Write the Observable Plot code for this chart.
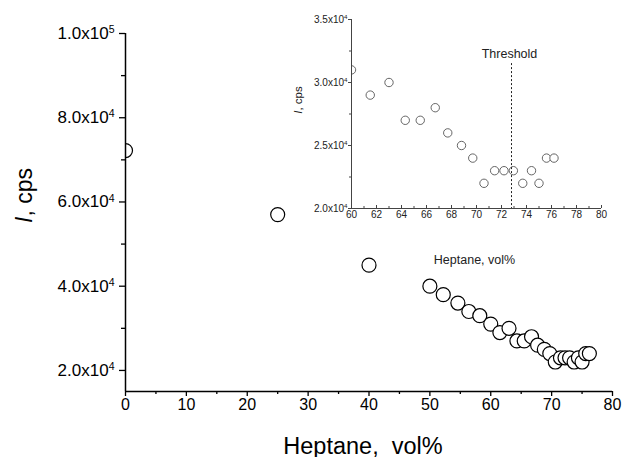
<!DOCTYPE html>
<html><head><meta charset="utf-8">
<script src="https://cdn.jsdelivr.net/npm/d3@7"></script>
<script src="https://cdn.jsdelivr.net/npm/@observablehq/plot@0.6"></script>
<style>
body{margin:0;background:#fff;}
#wrap{position:relative;width:622px;height:457px;}
#wrap > div{position:absolute;}
#main{left:0;top:0;width:622px;}
#inset{left:270px;top:0;width:350px;}
</style></head><body>
<div id="wrap"><div id="main"></div><div id="inset"></div></div>
<script>
// Data
const heptane = [0, 25, 40, 50, 52.2, 54.6, 56.4, 58.2, 60, 61.5, 63, 64.3, 65.5, 66.7, 67.7, 68.8, 69.7, 70.6, 71.45, 72.2, 72.95, 73.7, 74.4, 75.0, 75.6, 76.2];
const intensity = [72200, 57000, 45000, 40000, 38000, 36000, 34000, 33000, 31000, 29000, 30000, 27000, 27000, 28000, 26000, 25000, 24000, 22000, 23000, 23000, 23000, 22000, 23000, 22000, 24000, 24000];
const mainXTicks = [0, 10, 20, 30, 40, 50, 60, 70, 80];
const mainXMinor = [5, 15, 25, 35, 45, 55, 65, 75];
const mainYTicks = [20000, 40000, 60000, 80000, 100000];
const mainYMinor = [30000, 50000, 70000, 90000];
const insetXTicks = [60, 62, 64, 66, 68, 70, 72, 74, 76, 78, 80];
const insetXMinor = [61, 63, 65, 67, 69, 71, 73, 75, 77, 79];
const insetYTicks = [20000, 25000, 30000, 35000];
const insetYMinor = [22500, 27500, 32500];
const thresholdX = [72.8];
const thresholdLabel = ["Threshold"];
const xLabel = "Heptane,\u00a0 vol%";
const insetXLabel = "Heptane, vol%";
const yLabel = "I, cps";

const SUP = "⁰¹²³⁴⁵⁶⁷⁸⁹";
function sci(d) {
  const e = Math.floor(Math.log10(d) + 1e-9);
  const m = d / Math.pow(10, e);
  return m.toFixed(1) + "x10" + String(e).split("").map(c => SUP[+c]).join("");
}

const data = heptane.map((x, i) => ({x, y: intensity[i]}));
const insetData = data.filter(d => d.x >= 60);
const FONT = "Liberation Sans, Arial, sans-serif";

// main chart geometry
const MW = 622, MH = 457, ML = 125, MR = 10, MT = 33, MB = 66;
const mainXDom = [0, 80], mainYDom = [15000, 100000];
const xs = Plot.scale({x: {domain: mainXDom, range: [ML, MW - MR]}});
const ys = Plot.scale({y: {domain: mainYDom, range: [MH - MB, MT]}});
const x0 = mainXDom[0], y0 = mainYDom[0];

const main = Plot.plot({
  width: MW, height: MH,
  marginLeft: ML, marginRight: MR, marginTop: MT, marginBottom: MB,
  style: {fontFamily: FONT, background: "transparent", color: "#000"},
  x: {domain: mainXDom}, y: {domain: mainYDom},
  marks: [
    Plot.dot(data, {x: "x", y: "y", r: 7, fill: "white", stroke: "black", strokeWidth: 1.2, clip: true}),
    // white band hiding what falls left of the y axis
    Plot.ruleX([xs.invert(ML - 6.5)], {y1: mainYDom[0], y2: mainYDom[1], stroke: "white", strokeWidth: 13}),
    Plot.ruleX([x0], {stroke: "black", strokeWidth: 1.5}),
    Plot.ruleY([y0], {stroke: "black", strokeWidth: 1.5}),
    Plot.ruleX(mainXTicks, {x: d => d, y1: y0, y2: ys.invert(MH - MB + 5), stroke: "black", strokeWidth: 1.3}),
    Plot.ruleX(mainXMinor, {x: d => d, y1: y0, y2: ys.invert(MH - MB + 3), stroke: "black", strokeWidth: 1.3}),
    Plot.ruleY(mainYTicks, {y: d => d, x1: x0, x2: xs.invert(ML - 6), stroke: "black", strokeWidth: 1.3}),
    Plot.ruleY(mainYMinor, {y: d => d, x1: x0, x2: xs.invert(ML - 4), stroke: "black", strokeWidth: 1.3}),
    Plot.axisX({ticks: mainXTicks, tickSize: 0, tickPadding: 7, tickFormat: d => String(d), fontSize: 16, label: null}),
    Plot.axisY({ticks: mainYTicks, tickSize: 0, tickPadding: 11, tickFormat: sci, fontSize: 17, label: null}),
    Plot.text([xLabel], {text: d => d, frameAnchor: "bottom", textAnchor: "middle", lineAnchor: "middle", dx: -6, dy: 54.5, fontSize: 23.5}),
    Plot.text([yLabel], {text: d => d, frameAnchor: "left", textAnchor: "middle", lineAnchor: "middle", dx: -101, dy: -17, rotate: -90, fontSize: 23})
  ]
});
document.getElementById("main").appendChild(main);

// inset geometry
const IW = 350, IH = 268, IL = 81, IR = 19, IT = 19, IB = 60;
const insetXDom = [60, 80], insetYDom = [20000, 35000];
const ixs = Plot.scale({x: {domain: insetXDom, range: [IL, IW - IR]}});
const iys = Plot.scale({y: {domain: insetYDom, range: [IH - IB, IT]}});
const ix0 = insetXDom[0], iy0 = insetYDom[0];

const inset = Plot.plot({
  width: IW, height: IH,
  marginLeft: IL, marginRight: IR, marginTop: IT, marginBottom: IB,
  style: {fontFamily: FONT, background: "transparent", color: "#222"},
  x: {domain: insetXDom}, y: {domain: insetYDom},
  marks: [
    Plot.dot(insetData, {x: "x", y: "y", r: 4.2, fill: "white", stroke: "#555", strokeWidth: 0.9, clip: true}),
    Plot.ruleX([ixs.invert(IL - 2.7)], {y1: insetYDom[0], y2: insetYDom[1], stroke: "white", strokeWidth: 5.4}),
    Plot.ruleX(thresholdX, {y1: 31500, y2: iy0, stroke: "#222", strokeDasharray: "2,2", strokeWidth: 1}),
    Plot.text(thresholdLabel, {text: d => d, x: () => thresholdX[0], y: () => 32300, dx: -2, fontSize: 12.5, fill: "#222"}),
    Plot.ruleX([ix0], {stroke: "#444", strokeWidth: 1}),
    Plot.ruleY([iy0], {stroke: "#444", strokeWidth: 1}),
    Plot.ruleX(insetXTicks, {x: d => d, y1: iy0, y2: iys.invert(IH - IB - 3), stroke: "#444", strokeWidth: 1}),
    Plot.ruleX(insetXMinor, {x: d => d, y1: iy0, y2: iys.invert(IH - IB - 2), stroke: "#444", strokeWidth: 1}),
    Plot.ruleY(insetYTicks, {y: d => d, x1: ix0, x2: ixs.invert(IL - 3), stroke: "#444", strokeWidth: 1}),
    Plot.ruleY(insetYMinor, {y: d => d, x1: ix0, x2: ixs.invert(IL - 2), stroke: "#444", strokeWidth: 1}),
    Plot.axisX({ticks: insetXTicks, tickSize: 0, tickPadding: 2, tickFormat: d => String(d), fontSize: 10, label: null}),
    Plot.axisY({ticks: insetYTicks, tickSize: 0, tickPadding: 4, tickFormat: sci, fontSize: 10, label: null}),
    Plot.text([insetXLabel], {text: d => d, frameAnchor: "bottom", textAnchor: "middle", lineAnchor: "middle", dx: -2, dy: 51, fontSize: 12.5}),
    Plot.text([yLabel], {text: d => d, frameAnchor: "left", textAnchor: "middle", lineAnchor: "middle", dx: -53, dy: -14, rotate: -90, fontSize: 11.5})
  ]
});
document.getElementById("inset").appendChild(inset);

function fix(svg) {
  d3.select(svg).selectAll("text").each(function () {
    const t = this.textContent;
    const m = t.match(/^(.*x10)([⁰¹²³⁴⁵⁶⁷⁸⁹]+)$/);
    const sel = d3.select(this);
    if (m) {
      const exp = m[2].split("").map(c => SUP.indexOf(c)).join("");
      sel.text(null);
      sel.append("tspan").text(m[1]);
      sel.append("tspan").attr("dy", "-0.55em").attr("font-size", "0.62em").text(exp);
    } else if (t === yLabel) {
      sel.text(null);
      sel.append("tspan").attr("font-style", "italic").text("I");
      sel.append("tspan").text(", cps");
    }
  });
}
fix(main);
fix(inset);
</script>
</body></html>
